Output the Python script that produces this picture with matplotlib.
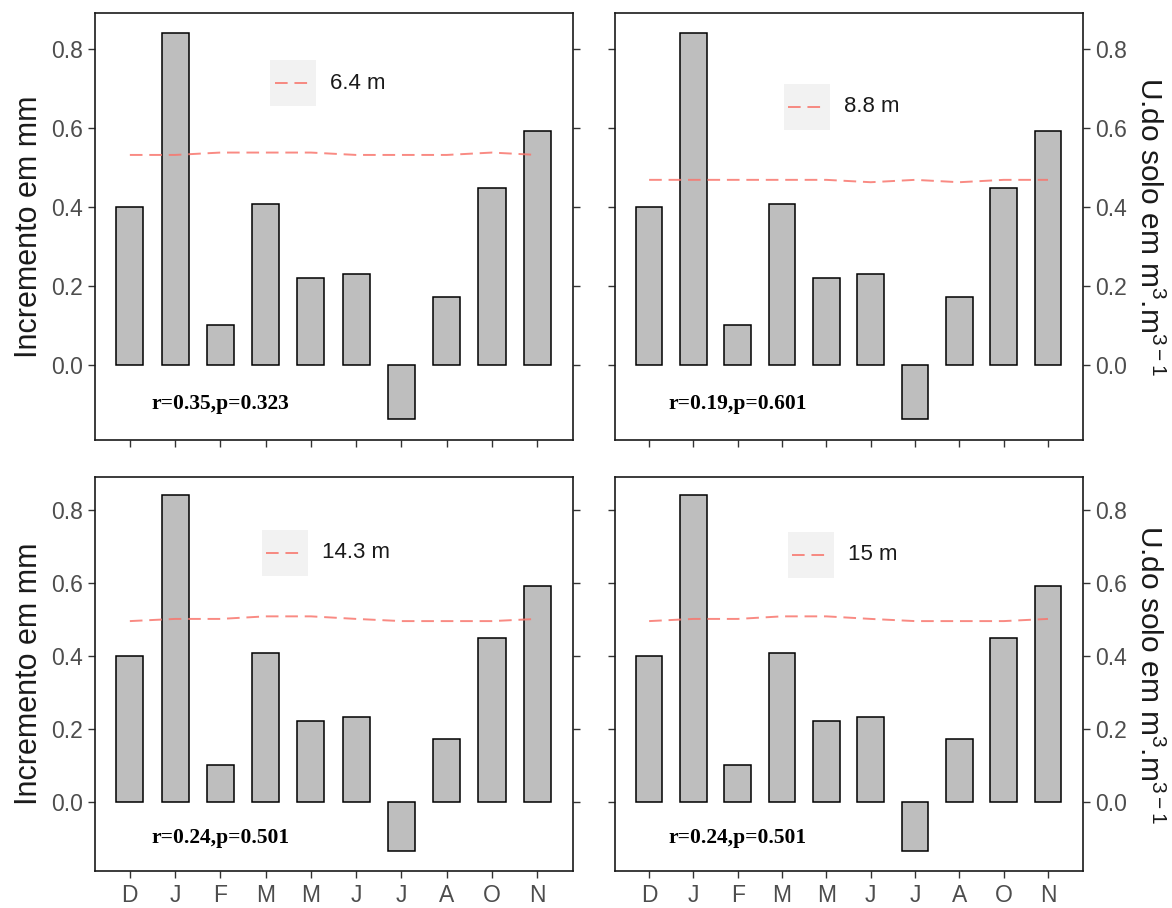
import matplotlib
matplotlib.use("Agg")
import matplotlib.pyplot as plt
from matplotlib.patches import Rectangle
from matplotlib.lines import Line2D

plt.rcParams["font.family"] = ["Liberation Sans", "DejaVu Sans"]
plt.rcParams["mathtext.fontset"] = "custom"
plt.rcParams["mathtext.rm"] = "Liberation Sans"
plt.rcParams["mathtext.it"] = "Liberation Sans:italic"

# dados
months = ["D", "J", "F", "M", "M", "J", "J", "A", "O", "N"]
incremento = [0.40, 0.84, 0.10, 0.408, 0.221, 0.231, -0.136, 0.171, 0.448, 0.591]
umid_6_4 = [0.531, 0.531, 0.537, 0.537, 0.537, 0.531, 0.531, 0.531, 0.537, 0.531]
umid_8_8 = [0.468, 0.468, 0.468, 0.468, 0.468, 0.462, 0.468, 0.462, 0.468, 0.468]
umid_14_3 = [0.495, 0.501, 0.501, 0.508, 0.508, 0.501, 0.495, 0.495, 0.495, 0.501]
umid_15 = [0.495, 0.501, 0.501, 0.508, 0.508, 0.501, 0.495, 0.495, 0.495, 0.501]
series = [umid_6_4, umid_8_8, umid_14_3, umid_15]
depths = ["6.4 m", "8.8 m", "14.3 m", "15 m"]
stats = ["r=0.35,p=0.323", "r=0.19,p=0.601", "r=0.24,p=0.501", "r=0.24,p=0.501"]
yticks = [0.0, 0.2, 0.4, 0.6, 0.8]

W, H = 1172, 908
# panel boxes in pixels: left, top, right, bottom
boxes = [(95, 13, 573, 440), (615, 13, 1083, 440),
         (95, 477, 573, 871), (615, 477, 1083, 871)]
# legend key centre (axes fraction)
leg_pos = [(0.415, 0.835), (0.410, 0.780), (0.397, 0.808), (0.418, 0.803)]

LINE_COL = "#F8766D"
TICK_COL = "#4D4D4D"

fig = plt.figure(figsize=(W / 100, H / 100), dpi=100)
x = list(range(len(months)))

for i, (l, t, r, b) in enumerate(boxes):
    ax = fig.add_axes([l / W, 1 - b / H, (r - l) / W, (b - t) / H])
    ax.bar(x, incremento, width=0.6, color="#BEBEBE", edgecolor="black", linewidth=1.1, zorder=2)
    ln, = ax.plot(x, series[i], color=LINE_COL, linewidth=1.4, alpha=0.85, zorder=3)
    ln.set_dashes([6.5, 3.5])
    ax.set_xlim(-0.77, 9.79)
    ax.set_ylim(-0.19, 0.89)
    ax.set_yticks(yticks)
    ax.set_yticklabels([f"{v:.1f}" for v in yticks])
    ax.set_xticks(x)
    right = i % 2 == 1
    bottom = i >= 2
    ax.tick_params(axis="both", direction="out", length=5, width=1, color="#333333",
                   labelcolor=TICK_COL, labelsize=16.5, pad=4, left=True, right=True,
                   labelleft=not right, labelright=right)
    if bottom:
        ax.set_xticklabels(months)
    else:
        ax.set_xticklabels([])
    for s in ax.spines.values():
        s.set_linewidth(1.2)
        s.set_color("#1A1A1A")
    if right:
        ax.yaxis.set_label_position("right")
        ax.set_ylabel(r"U.do solo em m$^{3}$.m$^{3-1}$", fontsize=21.5, rotation=-90,
                      labelpad=26, color="#1A1A1A")
    else:
        ax.set_ylabel("Incremento em mm", fontsize=22, color="#1A1A1A", labelpad=5)

    # legenda
    cx, cy = leg_pos[i]
    kw = 46 / (r - l)
    kh = 46 / (b - t)
    ax.add_patch(Rectangle((cx - kw / 2, cy - kh / 2), kw, kh, transform=ax.transAxes,
                           facecolor="#F2F2F2", edgecolor="none", zorder=4))
    lk = Line2D([cx - kw * 0.4, cx + kw * 0.4], [cy, cy], transform=ax.transAxes,
                color=LINE_COL, linewidth=1.4, alpha=0.85, zorder=5)
    lk.set_dashes([6.5, 3.5])
    ax.add_line(lk)
    ax.text(cx + kw / 2 + 14 / (r - l), cy, depths[i], transform=ax.transAxes,
            fontsize=16, va="center", ha="left", color="#1A1A1A")

    ax.text(2, -0.10, stats[i], fontsize=15.5, fontweight="bold", ha="center", va="center",
            family=["Liberation Serif", "DejaVu Serif"], color="black")

fig.savefig("out.png", dpi=100)
